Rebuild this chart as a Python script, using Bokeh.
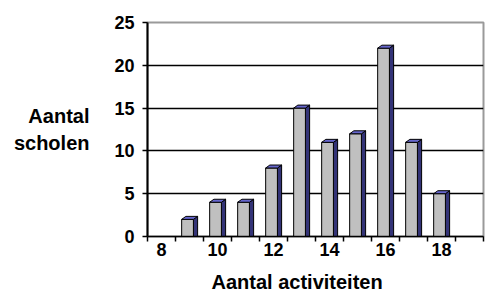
from bokeh.plotting import figure
from bokeh.models import FixedTicker, Range1d, Title
from bokeh.embed import file_html
from bokeh.resources import INLINE
import numpy as np

# ---- data ----
activities = [9, 10, 11, 12, 13, 14, 15, 16, 17, 18]
schools = [2, 4, 4, 8, 15, 11, 12, 22, 11, 5]
x_tick_labels = [8, 10, 12, 14, 16, 18]
y_ticks = [0, 5, 10, 15, 20, 25]

FONT = "Liberation Sans"

p = figure(width=488, height=302, output_backend="svg", toolbar_location=None,
           x_range=Range1d(7.5, 19.5), y_range=Range1d(0, 25),
           min_border_left=147, min_border_right=5, min_border_top=22,
           min_border_bottom=66)
p.background_fill_color = "white"
p.border_fill_color = "white"
p.outline_line_color = "#9a9a9a"
p.outline_line_width = 2

# grid
p.xgrid.visible = False
p.ygrid.ticker = FixedTicker(ticks=[5, 10, 15, 20])
p.ygrid.grid_line_color = "black"
p.ygrid.grid_line_width = 1.5

# 3D bars
x = np.array(activities, dtype=float)
v = np.array(schools, dtype=float)
fl, fr = x - 0.28, x + 0.14
dx, dy = 0.15, 0.35

side_xs = [[r, r + dx, r + dx, r] for r in fr]
side_ys = [[0, 0, h + dy, h] for h in v]
top_xs = [[l, l + dx, r + dx, r] for l, r in zip(fl, fr)]
top_ys = [[h, h + dy, h + dy, h] for h in v]

p.patches(side_xs, side_ys, fill_color="#333377", line_color="black", line_width=1)
p.quad(left=fl, right=fr, bottom=0, top=v, fill_color="#C0C0C0",
       line_color="black", line_width=1)
p.patches(top_xs, top_ys, fill_color="#6666CC", line_color="black", line_width=1)

# axes
xa = p.xaxis[0]
xa.ticker = FixedTicker(ticks=x_tick_labels,
                        minor_ticks=[t + 0.5 for t in range(7, 20)])
xa.major_tick_out = 0
xa.major_tick_in = 0
xa.minor_tick_out = 5
xa.minor_tick_in = 0
xa.minor_tick_line_color = "black"
xa.minor_tick_line_width = 1.5
xa.axis_line_color = "black"
xa.axis_line_width = 1.5
xa.major_label_standoff = 1
xa.major_label_text_font = FONT
xa.major_label_text_font_style = "bold"
xa.major_label_text_font_size = "18px"
xa.major_label_text_color = "black"

ya = p.yaxis[0]
ya.ticker = FixedTicker(ticks=y_ticks)
ya.minor_tick_out = 0
ya.minor_tick_in = 0
ya.major_tick_out = 5
ya.major_tick_in = 0
ya.major_tick_line_color = "black"
ya.major_tick_line_width = 1.5
ya.axis_line_color = "black"
ya.axis_line_width = 2
ya.major_label_standoff = 8
ya.major_label_text_font = FONT
ya.major_label_text_font_style = "bold"
ya.major_label_text_font_size = "18px"
ya.major_label_text_color = "black"

# y axis title, horizontal, two lines
ya.axis_label = "Aantal\nscholen"
ya.axis_label_orientation = "horizontal"
ya.axis_label_standoff = 22
ya.axis_label_text_font = FONT
ya.axis_label_text_font_style = "bold"
ya.axis_label_text_font_size = "20px"
ya.axis_label_text_color = "black"
ya.axis_label_text_align = "center"

# x axis title
p.add_layout(Title(text="Aantal activiteiten", align="left", offset=64,
                   standoff=20, vertical_align="bottom", text_font=FONT,
                   text_font_style="bold", text_font_size="20px",
                   text_color="black"), "below")

open("out.html", "w").write(file_html(p, INLINE))
